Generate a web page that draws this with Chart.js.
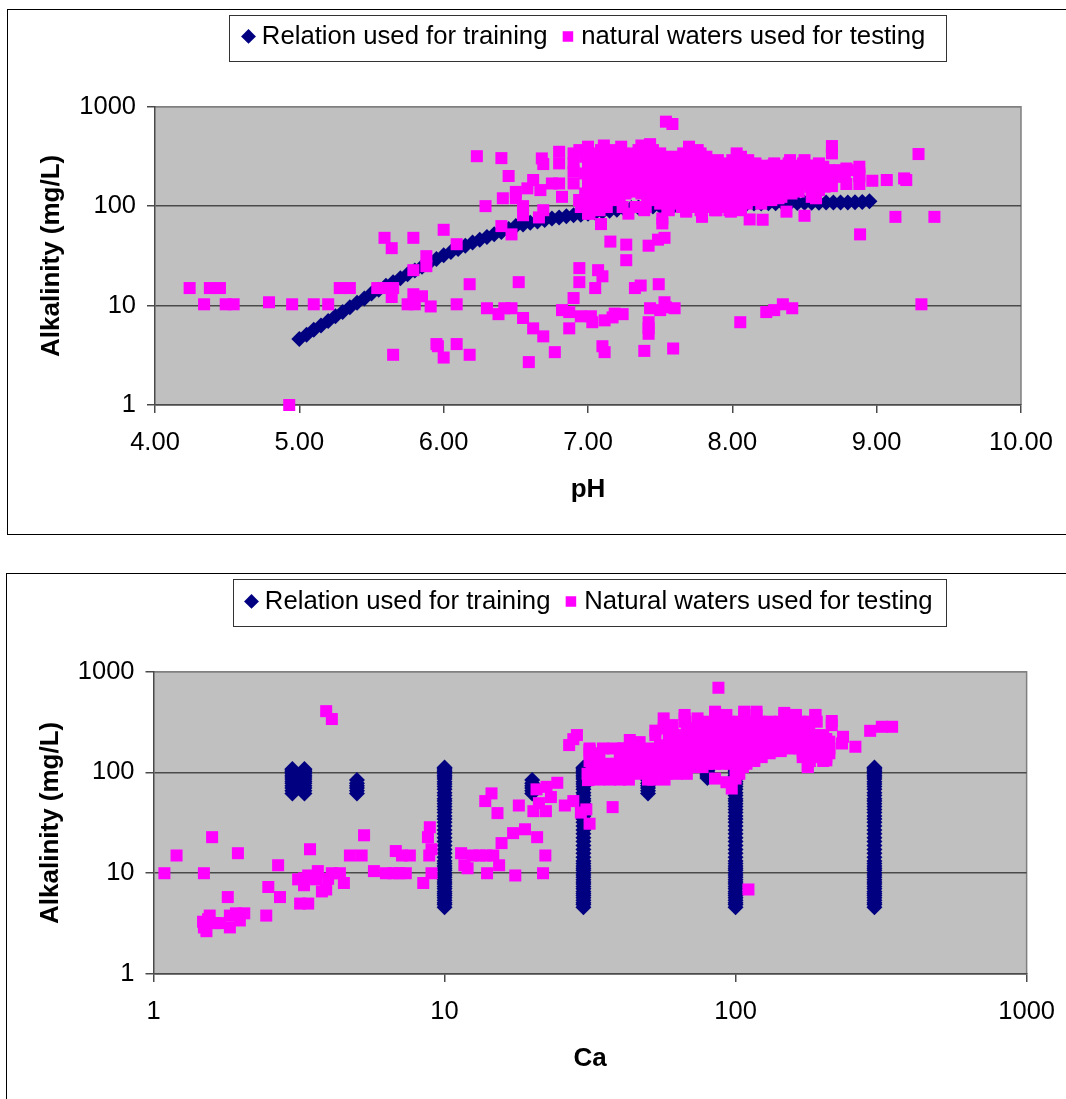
<!DOCTYPE html>
<html>
<head>
<meta charset="utf-8">
<title>Alkalinity</title>
<script src="https://cdn.jsdelivr.net/npm/chart.js@4"></script>
<style>
  html, body { margin: 0; padding: 0; background: #fff; overflow: hidden; }
  canvas { position: absolute; left: 0; }
  #phChart { top: 0; }
  #caChart { top: 540px; }
</style>
</head>
<body>
<canvas id="phChart" width="1066" height="540"></canvas>
<canvas id="caChart" width="1066" height="559"></canvas>
<script>
const alkTicks = [1, 10, 100, 1000];
const phTicks = [4, 5, 6, 7, 8, 9, 10];
const caTicks = [1, 10, 100, 1000];

// relation used for training, top chart
const trainPh = [5.00, 5.05, 5.10, 5.15, 5.20, 5.25, 5.30, 5.35, 5.40, 5.45, 5.50, 5.55, 5.60, 5.65, 5.70, 5.75,
  5.80, 5.85, 5.90, 5.95, 6.00, 6.05, 6.10, 6.15, 6.20, 6.25, 6.30, 6.35, 6.40, 6.45, 6.50, 6.55, 6.60, 6.65,
  6.70, 6.75, 6.80, 6.85, 6.90, 6.95, 7.00, 7.05, 7.10, 7.15, 7.20, 7.25, 7.30, 7.35, 7.40, 7.45, 7.50, 7.55,
  7.60, 7.65, 7.70, 7.75, 7.80, 7.85, 7.90, 7.95, 8.00, 8.05, 8.10, 8.15, 8.20, 8.25, 8.30, 8.35, 8.40, 8.45,
  8.50, 8.55, 8.60, 8.65, 8.70, 8.75, 8.80, 8.85, 8.90, 8.95];
const trainAlk = [4.6, 5.1, 5.7, 6.3, 7.0, 7.8, 8.6, 9.6, 10.7, 11.8, 13.2, 14.4, 15.8, 17.2, 18.8, 20.6,
  22.5, 24.6, 26.9, 29.4, 32, 34.5, 37, 40, 43, 46, 49, 52, 55, 59, 63, 65.5, 68, 70, 72.5,
  75, 77, 79, 81, 82, 84, 86, 88, 90, 92, 94, 96, 97, 98, 99, 100, 101,
  102, 102.5, 103, 103.5, 104, 104.5, 105, 105.5, 106, 106, 106.5, 106.5, 106.5, 107, 107, 107, 107.5, 107.5,
  108, 108, 108, 108.5, 108.5, 109, 109, 109.5, 110, 112];

// natural waters, top chart: dense band, one list of pH per alkalinity row
const bandAlk = [366, 339, 314, 290, 269, 255, 249, 230, 215, 213, 197, 183, 175, 169, 157, 145, 140, 134, 124, 120, 115, 106, 98, 91];
const bandPh = [
  [7.00, 7.09, 7.18, 7.35, 7.45, 7.76],
  [7.03, 7.12, 7.22, 7.30, 7.40, 7.50, 7.66, 7.78, 8.03],
  [6.98, 7.06, 7.15, 7.26, 7.34, 7.44, 7.54, 7.62, 7.72, 7.82, 8.06],
  [7.00, 7.10, 7.19, 7.28, 7.37, 7.47, 7.57, 7.68, 7.79, 7.90, 8.00, 8.11, 8.40, 8.50],
  [7.04, 7.13, 7.23, 7.32, 7.41, 7.52, 7.61, 7.71, 7.83, 7.93, 8.04, 8.16, 8.29, 8.39, 8.49, 8.60],
  [7.02, 7.08, 7.14, 7.20, 7.26, 7.32, 7.38, 7.44, 7.50, 7.56, 7.62, 7.68, 7.74, 7.80, 7.86, 7.92, 7.98, 8.04, 8.10, 8.16, 8.22, 8.28, 8.34, 8.40, 8.46, 8.52, 8.58],
  [7.00, 7.08, 7.17, 7.27, 7.36, 7.46, 7.56, 7.65, 7.75, 7.86, 7.97, 8.08, 8.19, 8.30, 8.44, 8.54, 8.63],
  [7.02, 7.11, 7.21, 7.31, 7.40, 7.50, 7.60, 7.70, 7.80, 7.90, 8.01, 8.12, 8.23, 8.34, 8.46, 8.57, 8.67, 8.74, 8.80],
  [7.04, 7.10, 7.16, 7.22, 7.28, 7.34, 7.40, 7.46, 7.52, 7.58, 7.64, 7.70, 7.76, 7.82, 7.88, 7.94, 8.00, 8.06, 8.12, 8.18, 8.24, 8.30, 8.36, 8.42, 8.48, 8.54, 8.60, 8.66],
  [6.98, 7.15, 7.25, 7.34, 7.44, 7.54, 7.64, 7.74, 7.84, 7.94, 8.05, 8.16, 8.27, 8.38, 8.50, 8.61, 8.69, 8.78, 8.88],
  [7.05, 7.12, 7.28, 7.38, 7.48, 7.58, 7.68, 7.78, 7.88, 7.98, 8.09, 8.20, 8.31, 8.42, 8.53, 8.64, 8.72],
  [7.00, 7.09, 7.22, 7.32, 7.42, 7.52, 7.62, 7.72, 7.82, 7.92, 8.02, 8.13, 8.24, 8.35, 8.46, 8.57, 8.68],
  [7.02, 7.08, 7.14, 7.20, 7.26, 7.32, 7.38, 7.44, 7.50, 7.56, 7.62, 7.68, 7.74, 7.80, 7.86, 7.92, 7.98, 8.04, 8.10, 8.16, 8.22, 8.28, 8.34, 8.40, 8.46, 8.52, 8.58, 8.64],
  [7.03, 7.13, 7.25, 7.35, 7.45, 7.55, 7.65, 7.75, 7.85, 7.95, 8.06, 8.17, 8.28, 8.39, 8.50, 8.60, 8.68],
  [7.07, 7.18, 7.29, 7.39, 7.49, 7.59, 7.69, 7.79, 7.89, 7.99, 8.10, 8.21, 8.32, 8.43, 8.54, 8.64],
  [7.03, 7.11, 7.33, 7.43, 7.53, 7.63, 7.73, 7.83, 7.93, 8.03, 8.14, 8.25, 8.36, 8.55, 8.60],
  [7.02, 7.08, 7.14, 7.20, 7.26, 7.32, 7.38, 7.44, 7.50, 7.56, 7.62, 7.68, 7.74, 7.80, 7.86, 7.92, 7.98, 8.04, 8.10, 8.16, 8.22, 8.28, 8.34, 8.40, 8.46],
  [6.98, 7.08, 7.16, 7.26, 7.37, 7.47, 7.57, 7.67, 7.77, 7.87, 7.97, 8.08, 8.19, 8.30, 8.41],
  [7.02, 7.12, 7.22, 7.41, 7.51, 7.61, 7.71, 7.81, 7.91, 8.01, 8.12, 8.23, 8.34, 8.55, 8.58],
  [7.48, 7.54, 7.60, 7.66, 7.72, 7.78, 7.84, 7.90, 7.96, 8.02, 8.08, 8.14, 8.20, 8.26, 8.32],
  [6.94, 7.05, 7.16, 7.45, 7.56, 7.66, 7.76, 7.86, 7.96, 8.05, 8.16, 8.27],
  [7.00, 7.10, 7.50, 7.60, 7.70, 7.80, 7.90, 8.00, 8.10, 8.20],
  [6.95, 7.03, 7.13, 7.24, 7.33, 7.40, 7.55, 7.65, 7.75, 7.85, 7.95, 8.04],
  [7.08, 7.39, 7.56, 7.68, 7.78, 7.88, 7.98, 8.06]
];
// natural waters, top chart: everything outside the band, [pH, alkalinity]
const scatterPh = [
  [4.24, 15], [4.34, 10.3], [4.38, 15], [4.45, 15], [4.49, 10.3], [4.545, 10.3], [4.79, 10.8], [4.95, 10.3],
  [5.10, 10.3], [5.20, 10.3], [5.28, 15], [5.35, 15], [4.93, 1], [5.54, 15], [5.60, 15], [5.65, 15], [5.64, 12.2],
  [5.59, 48], [5.64, 37.8], [5.79, 48], [6.00, 57.8], [5.79, 22.7], [5.88, 31.4], [5.88, 24.9], [6.09, 41.4],
  [6.18, 16.4], [5.79, 13], [5.85, 12.4], [5.75, 10.3], [5.80, 10.3], [5.91, 9.8], [6.09, 10.3], [6.30, 9.4],
  [6.38, 8.2], [6.42, 9.4], [6.47, 9.4], [6.52, 17.2], [6.55, 7.5], [6.62, 5.9], [6.69, 4.9], [6.77, 3.4],
  [6.59, 2.7], [5.95, 4.1], [5.96, 3.9], [6.00, 3.0], [6.09, 4.1], [6.18, 3.2], [5.65, 3.2], [6.82, 9.0],
  [6.87, 8.6], [6.87, 5.9], [6.90, 11.9], [6.94, 17.2], [6.94, 23.8], [6.95, 7.8], [7.02, 7.8], [7.03, 6.8],
  [7.115, 7.1], [7.185, 8.3], [7.24, 8.2], [7.17, 7.6], [7.42, 6.8], [7.42, 5.9], [7.42, 5.2], [7.10, 3.9],
  [7.115, 3.4], [7.39, 3.5], [7.59, 3.7], [8.055, 6.8], [8.235, 8.6], [8.29, 9], [8.35, 10.3], [8.415, 9.4],
  [7.53, 10.8], [7.43, 9.4], [7.50, 9], [7.60, 9.4], [7.54, 9.6], [7.07, 22.7], [7.10, 19.7], [7.05, 15],
  [7.325, 15], [7.365, 15.9], [7.49, 16.4], [9.31, 10.3],
  [6.23, 318], [6.40, 304], [6.45, 201], [6.29, 100], [6.40, 63], [6.47, 52], [6.41, 120], [6.50, 120],
  [6.55, 100], [6.55, 81], [6.50, 139], [6.58, 151], [6.62, 183], [6.67, 145], [6.68, 302], [6.69, 265],
  [6.69, 91], [6.66, 77], [6.75, 169], [6.80, 169], [6.80, 352], [6.80, 269], [6.82, 124], [6.90, 339],
  [6.90, 269], [6.90, 222], [6.90, 169], [6.94, 366], [7.00, 396], [7.00, 290], [7.00, 205], [7.00, 157],
  [6.94, 115], [7.00, 84], [7.54, 707], [7.585, 670], [7.01, 84], [7.28, 84], [7.515, 67], [7.515, 75],
  [7.09, 66], [7.155, 44], [7.265, 41], [7.265, 28.6], [7.42, 40], [7.485, 46], [7.53, 48], [7.79, 78],
  [7.68, 88], [7.89, 91], [7.99, 88], [8.12, 73.5], [8.21, 73], [8.375, 88], [8.50, 80], [8.58, 120],
  [8.97, 180], [9.07, 183], [9.19, 190], [9.205, 183], [9.29, 334], [8.69, 402], [8.69, 339], [8.79, 239],
  [8.88, 249], [8.79, 167], [8.88, 167], [8.69, 159], [9.13, 78], [9.40, 78], [8.885, 52], [8.88, 200],
  [7.11, 407], [7.23, 396], [7.37, 407], [7.43, 420], [7.70, 396]
];

// relation used for training, lower chart: Ca levels and the alkalinity each one spans
const fullCa = [10, 30, 100, 300];
const fullAlk = [4.6, 4.9, 5.1, 5.4, 5.7, 6.0, 6.3, 6.6, 7.0, 7.4, 7.8, 8.2, 8.6, 9.1, 9.6, 10.1, 10.7, 11.2, 11.8, 12.5,
  13.2, 14.4, 15.8, 17.2, 18.8, 20.6, 22.5, 24.6, 26.9, 29.4, 32, 34.5, 37, 40, 43, 46, 49, 52, 55, 59, 63, 68, 72.5, 77,
  81, 86, 90, 94, 98, 102, 106, 110, 112];
const highCa = [3, 3.3];
const highAlk = [62, 66, 70, 74, 78, 82, 86, 90, 94, 98, 102, 106, 108];
const midCa = [5, 20, 50];
const midAlk = [62, 66, 70, 74, 78, 84];
const topCa = [80];
const topAlk = [88, 92, 96, 100, 104, 108];

// natural waters, lower chart: dense band, one list of Ca per alkalinity row
const caBandAlk = [372, 319, 273, 235, 215, 202, 185, 173, 163, 155, 142, 130, 122, 113, 105, 97, 85];
const caBandCa = [
  [66.8, 85, 93, 107, 118, 147, 161, 188],
  [67, 74, 81, 88, 95, 103, 112, 121, 131, 142, 153, 166, 179, 190],
  [56.6, 60.7, 68, 74, 81, 88, 95, 103, 112, 121, 131, 142, 153, 166, 179],
  [53, 59, 66, 71, 77, 84, 91, 98, 106, 115, 125, 135, 146, 158, 171, 185, 200],
  [62, 66, 71, 75, 80, 85, 90, 96, 102, 109, 116, 123, 131, 140, 149, 159, 169, 180, 192, 205],
  [59, 64, 70, 75, 81, 88, 95, 103, 112, 121, 131, 142, 153, 166, 179, 194, 210],
  [55, 58, 62, 66, 71, 75, 80, 85, 90, 96, 102, 109, 116, 123, 131, 140, 149, 159, 169, 180, 192, 205],
  [31.5, 35, 38, 41.5, 45.5, 50.7, 55, 59, 64, 70, 75, 81, 88, 95, 103, 112, 121, 131, 142, 153, 166, 179, 194, 210],
  [50, 53, 56, 60, 64, 68, 72, 77, 82, 87, 92, 98, 104, 111, 118, 126, 134, 143, 170, 181, 193, 206],
  [31.5, 34, 40, 43, 47, 51, 55, 59, 64, 70, 75, 81, 88, 95, 103, 112, 121, 131, 179, 194, 210],
  [42, 45, 48, 51, 55, 58, 62, 66, 71, 75, 80, 85, 90, 96, 102, 109, 116, 123, 170, 180, 192, 205],
  [31.5, 34, 44.8, 48.5, 52, 56, 61, 66, 72, 77, 84, 91, 98, 106, 116, 180, 200],
  [33, 36, 39, 42, 45, 48, 51, 55, 58, 62, 66, 71, 75, 80, 85, 90, 96, 102, 109],
  [32, 35, 38, 41.5, 45, 48.5, 52, 56, 61, 66, 72, 77, 100, 106, 177],
  [33, 36, 39, 42, 45, 48, 51, 55, 58, 62, 66],
  [31, 33, 36, 39, 42, 46, 50, 54, 58, 63, 68, 103],
  [31.3, 34, 37, 40, 43, 50, 52, 57]
];
// natural waters, lower chart: everything outside the band, [Ca, alkalinity]
const scatterCa = [
  [1.09, 10], [1.20, 15], [1.49, 10], [1.59, 22.8], [1.95, 15.8], [1.80, 5.8], [2.48, 7.3], [2.72, 5.8], [2.68, 12],
  [2.44, 3.8], [3.45, 17.3], [3.92, 406], [4.1, 339], [1.49, 2.9], [1.52, 2.66], [1.48, 3.3], [1.56, 3.8], [1.54, 3.5],
  [1.69, 3.2], [1.63, 3.2], [1.83, 2.9], [1.83, 3.8], [1.92, 4.0], [2.05, 4.0], [1.98, 3.4],
  [3.14, 8.7], [3.29, 7.6], [3.40, 9.5], [3.67, 10.5], [3.62, 8.7], [3.79, 6.6], [3.92, 6.9], [3.98, 8.8], [4.1, 10],
  [4.37, 10], [4.51, 8], [3.19, 5], [3.4, 5], [3.29, 8.9], [3.5, 9.1], [5.29, 23.8], [4.73, 15], [5.19, 15], [5.72, 10.5],
  [6.29, 10], [6.67, 10], [7.0, 10], [7.36, 10], [6.8, 16.6], [7.14, 15], [7.6, 15], [8.45, 8], [8.9, 28.6], [8.77, 22.8],
  [9.02, 17.3], [8.86, 15], [9.02, 10], [11.4, 15.8], [11.7, 12], [12, 11.2], [12.5, 15], [13.2, 15], [13.9, 15], [14.7, 15],
  [14, 10], [15.4, 12], [15.7, 19.9], [17.2, 25], [18.9, 27.3], [20.8, 22.8], [22.2, 15], [21.8, 10], [17.5, 9.5],
  [13.8, 52], [14.5, 62], [15.2, 39.5], [18, 47], [20.2, 41.3], [21.1, 49.6], [22.3, 41.3], [20.7, 68], [22.4, 72],
  [23.2, 57], [24.4, 79], [25.9, 47], [27.7, 52], [26.8, 187], [28.5, 235], [27.7, 214], [29.4, 40], [30.7, 43],
  [31.1, 84], [31.5, 167], [31.5, 31], [37.8, 45.3], [110.7, 6.9], [87.3, 693],
  [53, 260], [56.6, 344], [60.7, 295], [66.8, 344], [74, 344], [85, 401], [107, 401], [118, 401], [147, 390], [161, 372],
  [188, 372], [214, 324], [214, 295], [234, 226], [232, 194], [258, 180], [290, 259], [318, 284], [345, 284], [205, 132],
  [177, 118], [85, 87], [93, 80], [97, 69.3], [100, 87], [46.8, 200], [43.3, 210], [41, 173], [50, 150]
];

const family = "'Liberation Sans', Arial, sans-serif";
const legendFont = { family, size: 25.7 };
const tickFont = { family, size: 25.5 };
// taller line box pushes the x labels down without widening the scale's side padding
const xTickFont = { family, size: 25.5, lineHeight: 1.51 };
const boldFont = { family, size: 26, weight: "bold" };
const axisColor = "#4a4a4a";

const pairsToPoints = (pairs) => pairs.map(([x, y]) => ({ x, y }));
const crossToPoints = (xs, ys) => xs.flatMap((x) => ys.map((y) => ({ x, y })));

const phBandPoints = bandPh.flatMap((row, i) => row.map((x) => ({ x, y: bandAlk[i] })));
const caBandPoints = caBandCa.flatMap((row, i) => row.map((x) => ({ x, y: caBandAlk[i] })));

const framePlugin = (box) => ({
  id: "frame",
  afterLayout(chart) {
    // the legend sits off centre in the original
    const legend = chart.legend;
    legend.left = box.legendX;
    legend.right = box.legendX + 800;
    legend.top = box.legendTop;
    legend.bottom = box.legendTop + 60;
  },
  beforeDraw(chart) {
    const { ctx, chartArea: a } = chart;
    ctx.save();
    ctx.fillStyle = "#c0c0c0";
    ctx.fillRect(a.left, a.top, a.right - a.left, a.bottom - a.top);
    ctx.strokeStyle = "#000";
    ctx.lineWidth = 1;
    ctx.strokeRect(box.frame[0], box.frame[1], box.frame[2], box.frame[3]);
    ctx.strokeStyle = "#333";
    ctx.strokeRect(box.legend[0], box.legend[1], box.legend[2], box.legend[3]);
    ctx.strokeStyle = "#808080";
    ctx.lineWidth = 1.5;
    ctx.beginPath();
    ctx.moveTo(a.left, a.top);
    ctx.lineTo(a.right, a.top);
    ctx.lineTo(a.right, a.bottom);
    ctx.stroke();
    ctx.restore();
  },
});

const yAxis = (width, titlePad) => ({
  type: "logarithmic",
  min: 1,
  max: 1000,
  afterBuildTicks: (scale) => { scale.ticks = alkTicks.map((value) => ({ value })); },
  afterFit: (scale) => { scale.width = width; },
  border: { color: axisColor, width: 1.5 },
  grid: {
    color: (c) => (c.tick && c.tick.value === 1000 ? "#808080" : axisColor),
    tickColor: axisColor,
    lineWidth: 1.5,
    tickLength: 8,
  },
  ticks: { color: "#000", font: tickFont, padding: 11, autoSkip: false, callback: (v) => String(v) },
  title: { display: true, text: "Alkalinity (mg/L)", color: "#000", font: boldFont, padding: { top: titlePad } },
});

const xGrid = { drawOnChartArea: false, color: axisColor, lineWidth: 1.5, tickLength: 8 };

const legendOptions = {
  position: "top",
  align: "start",
  labels: {
    color: "#000",
    font: legendFont,
    usePointStyle: true,
    boxWidth: 1,
    boxHeight: 10.5,
    padding: 20,
    sort: (a, b) => a.datasetIndex - b.datasetIndex,
  },
};

const series = (label, data, style, color, radius, order) => ({
  label,
  data,
  order,
  clip: false,
  pointStyle: style,
  pointRadius: radius,
  pointBorderWidth: 0,
  pointBackgroundColor: color,
  backgroundColor: color,
  borderColor: color,
});

new Chart(document.getElementById("phChart"), {
  type: "scatter",
  data: {
    datasets: [
      series("Relation used for training", trainPh.map((x, i) => ({ x, y: trainAlk[i] })), "rectRot", "#000080", 8, 2),
      series("natural waters used for testing", [...phBandPoints, ...pairsToPoints(scatterPh)], "rect", "#ff00ff", 8.5, 1),
    ],
  },
  options: {
    responsive: false,
    animation: false,
    layout: { autoPadding: false, padding: { left: 0, right: 45, top: 51, bottom: 0 } },
    plugins: { legend: legendOptions, tooltip: { enabled: false } },
    scales: {
      x: {
        type: "linear",
        min: 4,
        max: 10,
        afterBuildTicks: (scale) => { scale.ticks = phTicks.map((value) => ({ value })); },
        afterFit: (scale) => { scale.height = 135; },
        border: { color: axisColor, width: 1.5 },
        grid: xGrid,
        ticks: { color: "#000", font: xTickFont, padding: 11, maxRotation: 0, autoSkip: false, callback: (v) => v.toFixed(2) },
        title: { display: true, text: "pH", color: "#000", font: boldFont, padding: { bottom: 35 } },
      },
      y: yAxis(155, 36),
    },
  },
  plugins: [framePlugin({ frame: [7.5, 9.5, 1070, 525], legend: [229.5, 15.5, 717, 46], legendX: 228, legendTop: 3.6 })],
});

new Chart(document.getElementById("caChart"), {
  type: "scatter",
  data: {
    datasets: [
      series("Relation used for training",
        [...crossToPoints(fullCa, fullAlk), ...crossToPoints(highCa, highAlk), ...crossToPoints(midCa, midAlk), ...crossToPoints(topCa, topAlk)],
        "rectRot", "#000080", 8, 2),
      series("Natural waters used for testing", [...caBandPoints, ...pairsToPoints(scatterCa)], "rect", "#ff00ff", 8.5, 1),
    ],
  },
  options: {
    responsive: false,
    animation: false,
    layout: { autoPadding: false, padding: { left: 0, right: 39, top: 76, bottom: 0 } },
    plugins: { legend: legendOptions, tooltip: { enabled: false } },
    scales: {
      x: {
        type: "logarithmic",
        min: 1,
        max: 1000,
        afterBuildTicks: (scale) => { scale.ticks = caTicks.map((value) => ({ value })); },
        afterFit: (scale) => { scale.height = 125; },
        border: { color: axisColor, width: 1.5 },
        grid: xGrid,
        ticks: { color: "#000", font: xTickFont, padding: 11, maxRotation: 0, autoSkip: false, callback: (v) => String(v) },
        title: { display: true, text: "Ca", color: "#000", font: boldFont, padding: { bottom: 25 } },
      },
      y: yAxis(153.5, 35),
    },
  },
  plugins: [framePlugin({ frame: [6.5, 33.5, 1070, 600], legend: [233.5, 39.5, 713, 47], legendX: 231, legendTop: 28.6 })],
});
</script>
</body>
</html>
